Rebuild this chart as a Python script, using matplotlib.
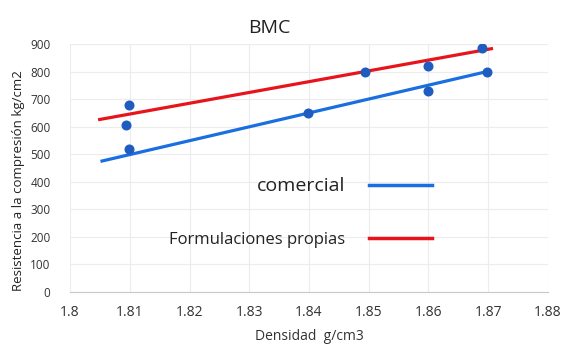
import matplotlib.pyplot as plt
from matplotlib.lines import Line2D

plt.rcParams['font.family'] = ['Open Sans', 'DejaVu Sans']

# ---- datos ----
densidad = [1.8099, 1.8094, 1.8099, 1.8398, 1.8494, 1.8599, 1.8599, 1.8690, 1.8698]
resistencia = [678, 607, 520, 648, 800, 821, 730, 886, 800]

# lineas de tendencia (extremos)
comercial_x = [1.8051, 1.8698]
comercial_y = [474, 800]
propias_x = [1.8047, 1.8708]
propias_y = [625, 884]

x_ticks = [1.8, 1.81, 1.82, 1.83, 1.84, 1.85, 1.86, 1.87, 1.88]
x_labels = ["1.8", "1.81", "1.82", "1.83", "1.84", "1.85", "1.86", "1.87", "1.88"]
y_ticks = [0, 100, 200, 300, 400, 500, 600, 700, 800, 900]

azul = "#1a6fe0"
rojo = "#e8141c"
puntos = "#1f5cbf"

fig = plt.figure(figsize=(5.61, 3.47), dpi=100)
ax = fig.add_axes([0.1248, 0.1585, 0.852, 0.7147])

ax.plot(propias_x, propias_y, color=rojo, lw=2.3, solid_capstyle="butt")
ax.plot(comercial_x, comercial_y, color=azul, lw=2.3, solid_capstyle="butt")
ax.plot(densidad, resistencia, "o", color=puntos, ms=6.2, zorder=3)

ax.set_xlim(1.8, 1.88)
ax.set_ylim(0, 900)
ax.set_xticks(x_ticks)
ax.set_xticklabels(x_labels)
ax.set_yticks(y_ticks)
ax.grid(True, color="#ececec", lw=0.8)
ax.set_axisbelow(True)
ax.tick_params(length=0, colors="#333333")
ax.tick_params(axis="x", labelsize=10, pad=9)
ax.tick_params(axis="y", labelsize=8.5, pad=14)
for s in ["top", "right", "left"]:
    ax.spines[s].set_visible(False)
ax.spines["bottom"].set_color("#c8c8c8")

ax.set_title("BMC", fontsize=14, pad=8, color="#222222", x=0.416)
ax.set_xlabel("Densidad  g/cm3", fontsize=10, color="#333333", labelpad=7)
ax.set_ylabel("Resistencia a la compresión kg/cm2", fontsize=9.5,
              color="#222222", labelpad=4, y=0.45)

handles = [Line2D([], [], color=azul, lw=2.5), Line2D([], [], color=rojo, lw=2.5)]
leg = ax.legend(handles, ["comercial", "Formulaciones propias"],
                markerfirst=False, frameon=False, handlelength=3.8,
                labelspacing=2.2, handletextpad=1.38, fontsize=12,
                loc="center right", bbox_to_anchor=(0.757, 0.32),
                borderaxespad=0, borderpad=0)
leg.get_texts()[0].set_fontsize(14)
for t in leg.get_texts():
    t.set_color("#222222")

fig.savefig("out.png", dpi=100)
